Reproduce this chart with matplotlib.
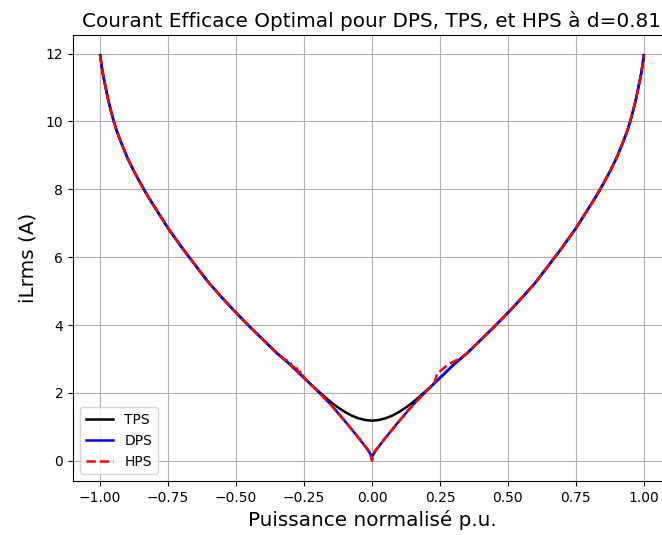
import matplotlib
matplotlib.use("Agg")
import matplotlib.pyplot as plt

# Normalized power (p.u.)
x_dps = [-1.00, -0.995, -0.99, -0.985, -0.98, -0.97, -0.96, -0.95, -0.94, -0.925,
         -0.90, -0.875, -0.85, -0.825, -0.80, -0.75,
         -0.70, -0.65, -0.60, -0.55, -0.50, -0.45, -0.40, -0.35, -0.30, -0.25,
         -0.20, -0.15, -0.10, -0.05, -0.025, -0.01, 0.00, 0.01, 0.025, 0.05,
         0.10, 0.15, 0.20, 0.25, 0.30, 0.35, 0.40, 0.45, 0.50, 0.55,
         0.60, 0.65, 0.70, 0.75, 0.80, 0.825, 0.85, 0.875, 0.90, 0.925,
         0.94, 0.95, 0.96, 0.97, 0.98, 0.985, 0.99, 0.995, 1.00]
i_dps = [11.95, 11.65, 11.40, 11.20, 11.00, 10.62, 10.30, 10.00, 9.74, 9.42,
         8.93, 8.52, 8.15, 7.80, 7.48, 6.85,
         6.29, 5.76, 5.24, 4.79, 4.36, 3.95, 3.56, 3.17, 2.83, 2.44,
         2.05, 1.64, 1.17, 0.68, 0.42, 0.25, 0.12, 0.25, 0.42, 0.68,
         1.17, 1.64, 2.05, 2.44, 2.83, 3.17, 3.56, 3.95, 4.36, 4.79,
         5.24, 5.76, 6.29, 6.85, 7.48, 7.80, 8.15, 8.52, 8.93, 9.42,
         9.74, 10.00, 10.30, 10.62, 11.00, 11.20, 11.40, 11.65, 11.95]

x_tps = [-1.00, -0.995, -0.99, -0.985, -0.98, -0.97, -0.96, -0.95, -0.94, -0.925,
         -0.90, -0.875, -0.85, -0.825, -0.80, -0.75,
         -0.70, -0.65, -0.60, -0.55, -0.50, -0.45, -0.40, -0.35, -0.30, -0.25,
         -0.225, -0.20, -0.175, -0.15, -0.125, -0.10, -0.075, -0.05, -0.025, 0.00,
         0.025, 0.05, 0.075, 0.10, 0.125, 0.15, 0.175, 0.20, 0.225,
         0.25, 0.30, 0.35, 0.40, 0.45, 0.50, 0.55,
         0.60, 0.65, 0.70, 0.75, 0.80, 0.825, 0.85, 0.875, 0.90, 0.925,
         0.94, 0.95, 0.96, 0.97, 0.98, 0.985, 0.99, 0.995, 1.00]
i_tps = [11.95, 11.65, 11.40, 11.20, 11.00, 10.62, 10.30, 10.00, 9.74, 9.42,
         8.93, 8.52, 8.15, 7.80, 7.48, 6.85,
         6.29, 5.76, 5.24, 4.79, 4.36, 3.95, 3.56, 3.17, 2.83, 2.44,
         2.25, 2.07, 1.89, 1.72, 1.57, 1.44, 1.33, 1.25, 1.20, 1.18,
         1.20, 1.25, 1.33, 1.44, 1.57, 1.72, 1.89, 2.07, 2.25,
         2.44, 2.83, 3.17, 3.56, 3.95, 4.36, 4.79,
         5.24, 5.76, 6.29, 6.85, 7.48, 7.80, 8.15, 8.52, 8.93, 9.42,
         9.74, 10.00, 10.30, 10.62, 11.00, 11.20, 11.40, 11.65, 11.95]

x_hps = [-1.00, -0.995, -0.99, -0.985, -0.98, -0.97, -0.96, -0.95, -0.94, -0.925,
         -0.90, -0.875, -0.85, -0.825, -0.80, -0.75,
         -0.70, -0.65, -0.60, -0.55, -0.50, -0.45, -0.40, -0.35, -0.32, -0.305,
         -0.29, -0.28, -0.27, -0.26, -0.25, -0.20, -0.15, -0.10, -0.05, -0.025,
         -0.01, 0.00, 0.01, 0.025, 0.05, 0.10, 0.15, 0.20, 0.23, 0.24,
         0.26, 0.28, 0.30, 0.32, 0.35, 0.40, 0.45, 0.50, 0.55,
         0.60, 0.65, 0.70, 0.75, 0.80, 0.825, 0.85, 0.875, 0.90, 0.925,
         0.94, 0.95, 0.96, 0.97, 0.98, 0.985, 0.99, 0.995, 1.00]
i_hps = [11.95, 11.65, 11.40, 11.20, 11.00, 10.62, 10.30, 10.00, 9.74, 9.42,
         8.93, 8.52, 8.15, 7.80, 7.48, 6.85,
         6.29, 5.76, 5.24, 4.79, 4.36, 3.95, 3.56, 3.17, 2.97, 2.95,
         2.72, 2.82, 2.58, 2.64, 2.44, 2.05, 1.64, 1.17, 0.68, 0.42,
         0.28, 0.00, 0.28, 0.42, 0.68, 1.17, 1.64, 2.05, 2.30, 2.58,
         2.70, 2.84, 2.92, 3.00, 3.17, 3.56, 3.95, 4.36, 4.79,
         5.24, 5.76, 6.29, 6.85, 7.48, 7.80, 8.15, 8.52, 8.93, 9.42,
         9.74, 10.00, 10.30, 10.62, 11.00, 11.20, 11.40, 11.65, 11.95]

fig = plt.figure(figsize=(6.62, 5.35), dpi=100)
ax = fig.add_axes([73 / 662, 54 / 535, 598 / 662, 446 / 535])

ax.plot(x_tps, i_tps, color="black", lw=1.8, label="TPS")
ax.plot(x_dps, i_dps, color="blue", lw=1.8, label="DPS")
ax.plot(x_hps, i_hps, color="red", lw=1.8, ls="--", label="HPS")

ax.set_xticks([-1.0, -0.75, -0.5, -0.25, 0.0, 0.25, 0.5, 0.75, 1.0])
ax.set_xticklabels(["\u22121.00", "\u22120.75", "\u22120.50", "\u22120.25", "0.00",
                    "0.25", "0.50", "0.75", "1.00"])
ax.set_yticks([0, 2, 4, 6, 8, 10, 12])
ax.tick_params(labelsize=10)
ax.grid(True)
ax.set_xlabel("Puissance normalisé p.u.", fontsize=14.4)
ax.set_ylabel("iLrms (A)", fontsize=14.4, labelpad=6)
ax.set_title("Courant Efficace Optimal pour DPS, TPS, et HPS à d=0.81", fontsize=14.4)
ax.legend(loc="lower left", fontsize=10)

fig.savefig("out.png", dpi=100)
